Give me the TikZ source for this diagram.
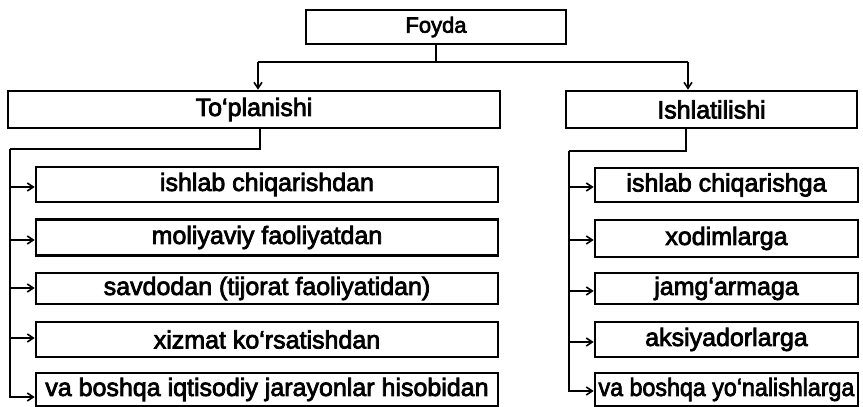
\documentclass[tikz,border=0pt]{standalone}
\usepackage{fontspec}
\setmainfont{Liberation Sans}[FakeBold=3]
\usetikzlibrary{arrows.meta,calc}
\begin{document}
\begin{tikzpicture}[x=1pt,y=-1pt,
  ln/.style={line width=2.4pt},
  arr/.style={ln,-{Straight Barb[length=6pt,width=8pt,line width=1.6pt]}},
  boxbase/.style={draw,line width=2.6pt,inner sep=0pt},
  topbox/.style={boxbase,minimum height=37pt,font=\fontsize{25}{27}\selectfont},
  lbox/.style={boxbase,minimum width=462pt,font=\fontsize{25}{27}\selectfont},
  rbox/.style={boxbase,minimum width=263pt,font=\fontsize{25}{27}\selectfont}]
\useasboundingbox (0,0) rectangle (863,407);
\node[boxbase,minimum width=260pt,minimum height=34pt,font=\fontsize{22}{24}\selectfont] (foyda) at (436,27) {Foyda};
\node[topbox,minimum width=492pt] (top) at (254,109.5) {To‘planishi};
\node[topbox,minimum width=291pt] (ish) at (711.5,109.5) {Ishlatilishi};
% left boxes
\node[lbox,minimum height=35pt] (l1) at (267,184.5) {ishlab chiqarishdan};
\node[lbox,minimum height=36pt] (l2) at (267,237.5) {moliyaviy faoliyatdan};
\node[lbox,minimum height=31pt] (l3) at (267,288.5) {savdodan (tijorat faoliyatidan)};
\node[lbox,minimum height=35pt] (l4) at (267,339.5) {xizmat ko‘rsatishdan};
\node[lbox,minimum height=33pt] (l5) at (267,389.5) {va boshqa iqtisodiy jarayonlar hisobidan};
% right boxes
\node[rbox,minimum height=34pt] (r1) at (726.5,185) {ishlab chiqarishga};
\node[rbox,minimum height=37pt] (r2) at (726.5,238.5) {xodimlarga};
\node[rbox,minimum height=31pt] (r3) at (726.5,288.5) {jamg‘armaga};
\node[rbox,minimum height=35pt] (r4) at (726.5,339.5) {aksiyadorlarga};
\node[rbox,minimum height=33pt] (r5) at (726.5,389.5) {\scalebox{0.93}[1]{va boshqa yo‘nalishlarga}};
% top connectors
\coordinate (jL) at (258,62);
\coordinate (jR) at (688,62);
\draw[ln] (foyda.south) -- (foyda.south |- jL);
\draw[ln] (jL) -- (jR);
\draw[arr] (jL) -- (jL |- top.north);
\draw[arr] (jR) -- (jR |- ish.north);
% left bus
\coordinate (lb) at (10,149);
\draw[ln] ([xshift=6pt]top.south) |- (lb);
\draw[arr] (lb) |- (l5.west |- 0,397);
\draw[arr] (lb |- 0,187) -- (l1.west |- 0,187);
\draw[arr] (lb |- 0,240) -- (l2.west |- 0,240);
\draw[arr] (lb |- 0,288) -- (l3.west |- 0,288);
\draw[arr] (lb |- 0,338) -- (l4.west |- 0,338);
% right bus
\coordinate (rb) at (569,151);
\draw[ln] ([xshift=-25.5pt]ish.south) |- (rb);
\draw[arr] (rb) |- (r5.west |- 0,391);
\draw[arr] (rb |- 0,187) -- (r1.west |- 0,187);
\draw[arr] (rb |- 0,240) -- (r2.west |- 0,240);
\draw[arr] (rb |- 0,291) -- (r3.west |- 0,291);
\draw[arr] (rb |- 0,342) -- (r4.west |- 0,342);
\end{tikzpicture}
\end{document}
